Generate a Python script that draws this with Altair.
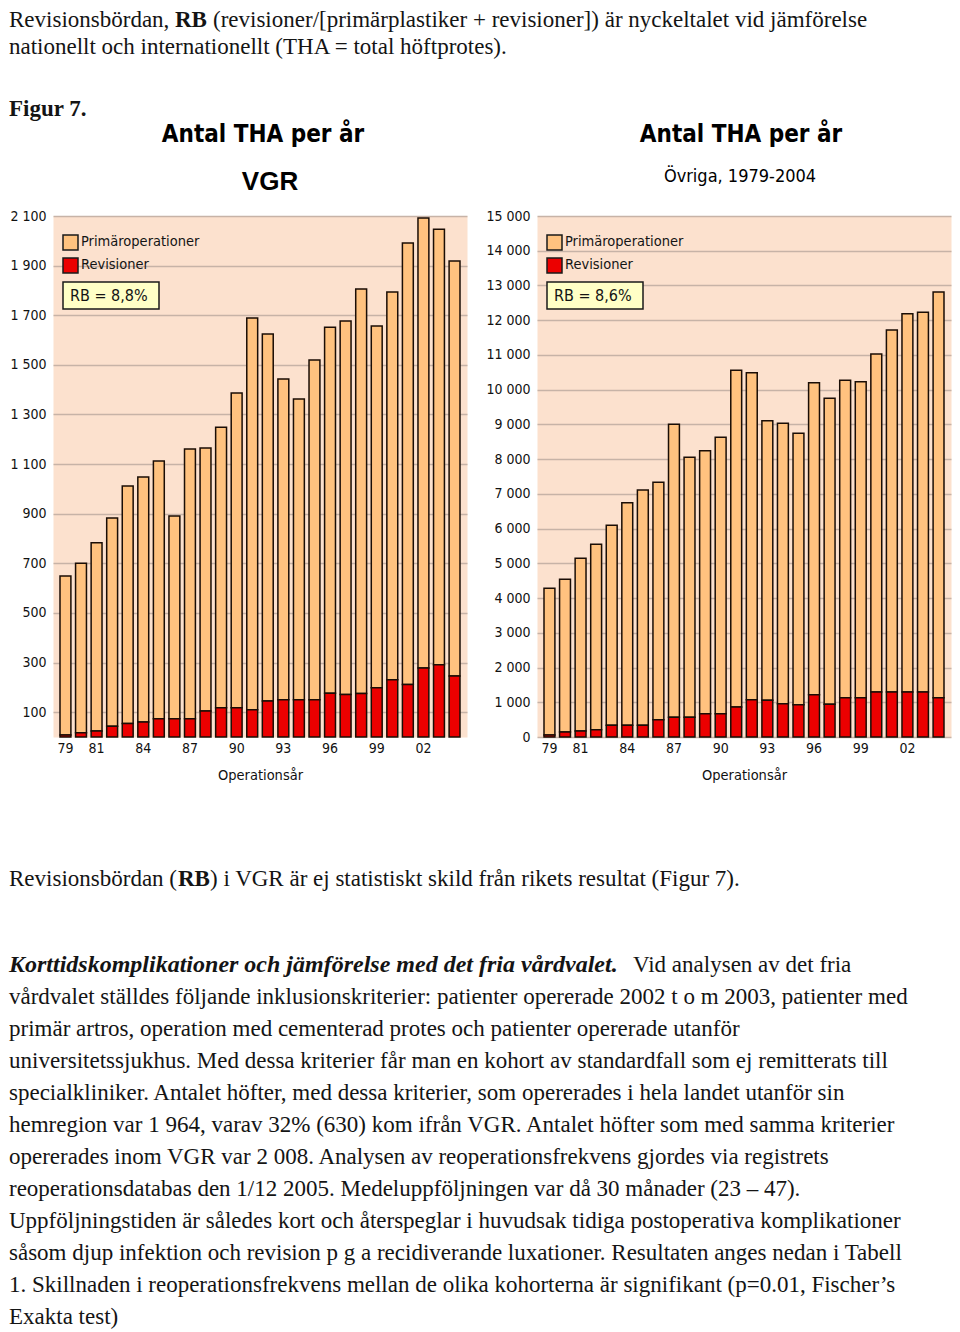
import altair as alt
import pandas as pd

# ---------------- data ----------------
years = ["79", "80", "81", "82", "83", "84", "85", "86", "87", "88", "89", "90", "91",
         "92", "93", "94", "95", "96", "97", "98", "99", "00", "01", "02", "03", "04"]
x_tick_labels = ["79", "81", "84", "87", "90", "93", "96", "99", "02"]
series = ["Primäroperationer", "Revisioner"]
series_colors = ["#FFC27F", "#EC0000"]

vgr_prim = [641, 683, 759, 840, 958, 988, 1038, 817, 1087, 1060, 1131, 1269, 1579,
            1479, 1293, 1212, 1370, 1476, 1506, 1631, 1458, 1563, 1779, 1814, 1756, 1673]
vgr_rev = [8, 17, 24, 43, 54, 60, 74, 74, 74, 105, 118, 118, 110,
           145, 150, 150, 150, 176, 171, 175, 199, 231, 212, 278, 291, 246]

ovr_prim = [4221, 4396, 4972, 5337, 5759, 6410, 6775, 6833, 8437, 7487, 7572, 7957, 9693,
            9414, 8051, 8070, 7812, 8982, 8810, 9136, 9097, 9731, 10422, 10891, 10931, 11679]
ovr_rev = [60, 144, 173, 211, 336, 336, 336, 499, 566, 566, 671, 671, 864,
           1075, 1056, 960, 931, 1219, 940, 1133, 1133, 1296, 1296, 1296, 1296, 1133]

vgr_ticks = [100, 300, 500, 700, 900, 1100, 1300, 1500, 1700, 1900, 2100]
ovr_ticks = [0, 1000, 2000, 3000, 4000, 5000, 6000, 7000, 8000, 9000, 10000,
             11000, 12000, 13000, 14000, 15000]

chart_title = "Antal THA per år"
subtitles = ["VGR", "Övriga, 1979-2004"]
rb_labels = ["RB = 8,8%", "RB = 8,6%"]
x_title = "Operationsår"

top_line1 = ["Revisionsbördan,", "RB", "(revisioner/[primärplastiker + revisioner]) är nyckeltalet vid jämförelse"]
top_line2 = "nationellt och internationellt (THA = total höftprotes)."
fig_label = "Figur 7."
bottom_line1 = ["Revisionsbördan (", "RB", ") i VGR är ej statistiskt skild från rikets resultat (Figur 7)."]
heading = ["Korttidskomplikationer och jämförelse med det fria vårdvalet.", "Vid analysen av det fria"]
body_lines = [
    "vårdvalet ställdes följande inklusionskriterier: patienter opererade 2002 t o m 2003, patienter med",
    "primär artros, operation med cementerad protes och patienter opererade utanför",
    "universitetssjukhus. Med dessa kriterier får man en kohort av standardfall som ej remitterats till",
    "specialkliniker. Antalet höfter, med dessa kriterier, som opererades i hela landet utanför sin",
    "hemregion var 1 964, varav 32% (630) kom ifrån VGR. Antalet höfter som med samma kriterier",
    "opererades inom VGR var 2 008. Analysen av reoperationsfrekvens gjordes via registrets",
    "reoperationsdatabas den 1/12 2005. Medeluppföljningen var då 30 månader (23 – 47).",
    "Uppföljningstiden är således kort och återspeglar i huvudsak tidiga postoperativa komplikationer",
    "såsom djup infektion och revision p g a recidiverande luxationer. Resultaten anges nedan i Tabell",
    "1. Skillnaden i reoperationsfrekvens mellan de olika kohorterna är signifikant (p=0.01, Fischer’s",
    "Exakta test)",
]

# ---------------- styling ----------------
NARROW = "DejaVu Sans Condensed, Roboto, sans-serif"
SERIF = "Liberation Serif"
TXT = "#141414"
W, H = 414, 521
SERIF_SIZE = 23


def txt(s, x, y, font=SERIF, size=SERIF_SIZE, weight="normal", style="normal",
        align="left", color=TXT):
    return alt.Chart(pd.DataFrame({"t": [s]})).mark_text(
        align=align, baseline="middle", font=font, fontSize=size,
        fontWeight=weight, fontStyle=style, color=color
    ).encode(text="t:N", x=alt.value(x), y=alt.value(y))


def box(x1, x2, y1, y2, fill):
    return alt.Chart(pd.DataFrame({"a": [0]})).mark_rect(
        fill=fill, stroke="#1a1a1a", strokeWidth=1.5
    ).encode(x=alt.value(x1), x2=alt.value(x2), y=alt.value(y1), y2=alt.value(y2))


def panel(prim, rev, ymax, ticks, sub_layer, rb_text, title_x):
    df = pd.DataFrame({
        "year": years + years,
        "serie": [series[0]] * len(years) + [series[1]] * len(years),
        "n": prim + rev,
        "ord": [1] * len(years) + [0] * len(years),
    })
    bars = alt.Chart(df).mark_bar(stroke="#1a0d05", strokeWidth=1.5).encode(
        x=alt.X("year:N", sort=years,
                scale=alt.Scale(paddingInner=0.3, paddingOuter=0.45),
                axis=alt.Axis(values=x_tick_labels, title=x_title, labelAngle=0,
                              domain=False, ticks=False, grid=False,
                              labelPadding=4, titlePadding=13)),
        y=alt.Y("n:Q", stack="zero",
                scale=alt.Scale(domain=[0, ymax], nice=False, zero=True),
                axis=alt.Axis(values=ticks, title=None, domain=False, ticks=False,
                              grid=True, labelPadding=7,
                              labelExpr="replace(format(datum.value, ','), ',', ' ')")),
        color=alt.Color("serie:N", scale=alt.Scale(domain=series, range=series_colors),
                        legend=None),
        order=alt.Order("ord:Q", sort="ascending"),
    )
    layers = [bars]
    # legend
    for i, (name, col) in enumerate(zip(series, series_colors)):
        y0 = 19 + i * 23
        layers.append(box(10, 25, y0, y0 + 15, col))
        layers.append(txt(name, 28, y0 + 7, font=NARROW, size=14.5))
    layers.append(box(10, 106, 66, 93, "#FFFFC6"))
    layers.append(txt(rb_text, 17, 80, font=NARROW, size=16))
    # titles
    layers.append(txt(chart_title, title_x, -81, font=NARROW, size=24, weight="bold",
                      align="center", color="#000"))
    layers.append(sub_layer)
    return alt.layer(*layers).properties(width=W, height=H)


left = panel(vgr_prim, vgr_rev, 2100, vgr_ticks,
             txt(subtitles[0], 217, -34, font="Liberation Sans", size=26,
                 weight="bold", align="center", color="#000"),
             rb_labels[0], 210)
right = panel(ovr_prim, ovr_rev, 15000, ovr_ticks,
              txt(subtitles[1], 203, -39, font=NARROW, size=18, align="center",
                  color="#000"),
              rb_labels[1], 204)

# page text (positioned relative to the left plot's origin)
X0 = -44
page_layers = [
    txt(top_line1[0], X0, -196),
    txt(top_line1[1], 122, -196, weight="bold"),
    txt(top_line1[2], 160, -196),
    txt(top_line2, X0, -169),
    txt(fig_label, X0, -107, weight="bold"),
    txt(bottom_line1[0], X0, 663),
    txt(bottom_line1[1], 125, 663, weight="bold"),
    txt(bottom_line1[2], 157, 663),
    txt(heading[0], X0, 749, size=24, weight="bold", style="italic"),
    txt(heading[1], 580, 749),
]
for i, line in enumerate(body_lines):
    page_layers.append(txt(line, X0, 781 + 32 * i))

left = alt.layer(left, *page_layers)

chart = alt.hconcat(left, right, spacing=70, bounds="flush").properties(
    padding=0, background="white"
).configure_view(
    fill="#FCE1CE", stroke="transparent"
).configure_axis(
    labelFont=NARROW, labelFontSize=14, labelColor="#111",
    titleFont=NARROW, titleFontSize=14.5, titleFontWeight="normal", titleColor="#111",
    gridColor="#C7B3A7", gridWidth=1.5,
)

chart.save("out.html", embed_options={"renderer": "svg", "actions": False})
